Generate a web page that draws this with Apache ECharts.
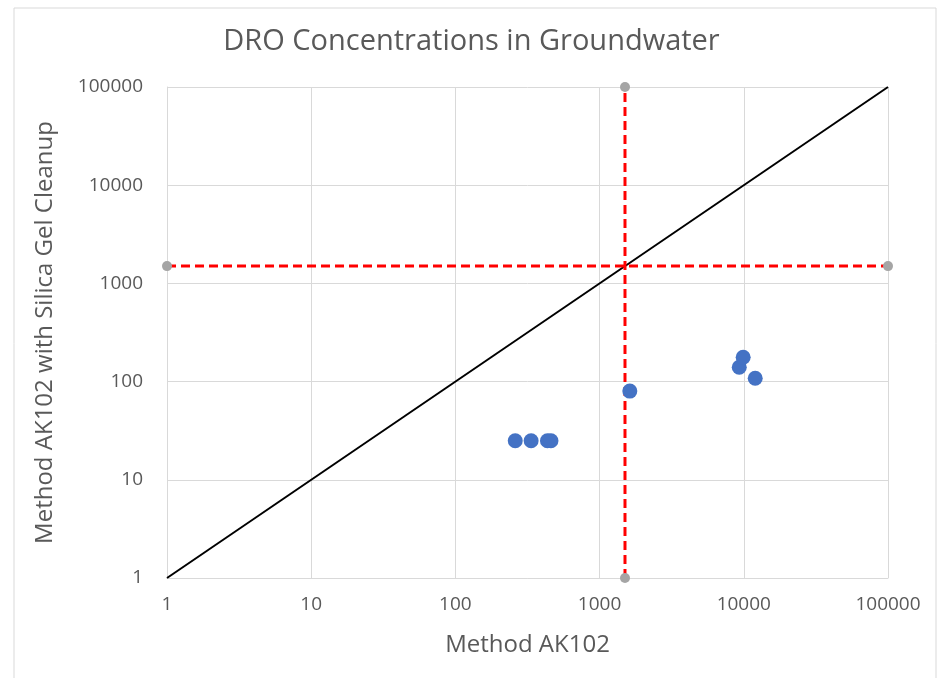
<!DOCTYPE html>
<html>
<head>
<meta charset="utf-8">
<script src="https://cdn.jsdelivr.net/npm/echarts@6/dist/echarts.min.js"></script>
<style>
html, body { margin: 0; padding: 0; background: #fff; }
#chartmain { width: 943px; height: 678px; }
</style>
</head>
<body>
<div id="chartmain"></div>
<script>
// data
var xTicks = [1, 10, 100, 1000, 10000, 100000];
var sampleX = [260, 335, 435, 460, 1620, 9300, 9900, 12000];
var sampleY = [25, 25, 25, 25, 80, 140, 177, 108];
var limitValue = 1500;
var oneToOne = [[1, 1], [100000, 100000]];
var limitV = [[limitValue, 1], [limitValue, 100000]];
var limitH = [[1, limitValue], [100000, limitValue]];

var points = sampleX.map(function (x, i) { return [x, sampleY[i]]; });

var textColor = '#595959';
var gridColor = '#d9d9d9';

function logAxis(name) {
	return {
		type : 'log',
		logBase : 10,
		min : xTicks[0],
		max : xTicks[xTicks.length - 1],
		name : name,
		nameLocation : 'middle',
		nameTextStyle : {
			color : textColor,
			fontSize : 24,
			fontFamily : 'Open Sans'
		},
		axisLine : { show : true, lineStyle : { color : gridColor, width : 1 } },
		axisTick : { show : false },
		splitLine : { show : true, lineStyle : { color : gridColor, width : 1 } },
		minorTick : { show : false },
		axisLabel : {
			color : textColor,
			fontSize : 19,
			fontFamily : 'Open Sans',
			formatter : function (v) { return String(Math.round(v)); }
		}
	};
}

var xAxis = logAxis('Method AK102');
xAxis.nameGap = 55;
xAxis.axisLabel.margin = 17;
var yAxis = logAxis('Method AK102 with Silica Gel Cleanup');
yAxis.nameGap = 110;
yAxis.axisLabel.margin = 24;

var option = {
	animation : false,
	title : {
		text : 'DRO Concentrations in Groundwater',
		left : 'center',
		top : 22,
		textStyle : {
			color : textColor,
			fontSize : 29,
			fontWeight : 'normal',
			fontFamily : 'Open Sans'
		}
	},
	graphic : [ {
		type : 'rect',
		shape : { x : 14, y : 8, width : 922, height : 700 },
		style : { fill : 'none', stroke : '#d9d9d9', lineWidth : 1 },
		silent : true
	} ],
	grid : {
		left : 167,
		right : 55,
		top : 87,
		bottom : 100
	},
	xAxis : xAxis,
	yAxis : yAxis,
	series : [ {
		name : '1:1',
		type : 'line',
		data : oneToOne,
		symbol : 'none',
		lineStyle : { color : '#000', width : 2 },
		z : 2
	}, {
		name : 'limit x',
		type : 'line',
		data : limitV,
		symbol : 'circle',
		symbolSize : 10,
		itemStyle : { color : '#a5a5a5', opacity : 1 },
		lineStyle : { color : '#ff0000', width : 3, type : [9, 5] },
		z : 3
	}, {
		name : 'limit y',
		type : 'line',
		data : limitH,
		symbol : 'circle',
		symbolSize : 10,
		itemStyle : { color : '#a5a5a5', opacity : 1 },
		lineStyle : { color : '#ff0000', width : 3, type : [9, 5] },
		z : 3
	}, {
		name : 'samples',
		type : 'scatter',
		data : points,
		symbolSize : 15,
		itemStyle : { color : '#4472c4', opacity : 1 },
		z : 4
	} ]
};

var myChart = echarts.init(document.getElementById('chartmain'));
myChart.setOption(option);
</script>
</body>
</html>
